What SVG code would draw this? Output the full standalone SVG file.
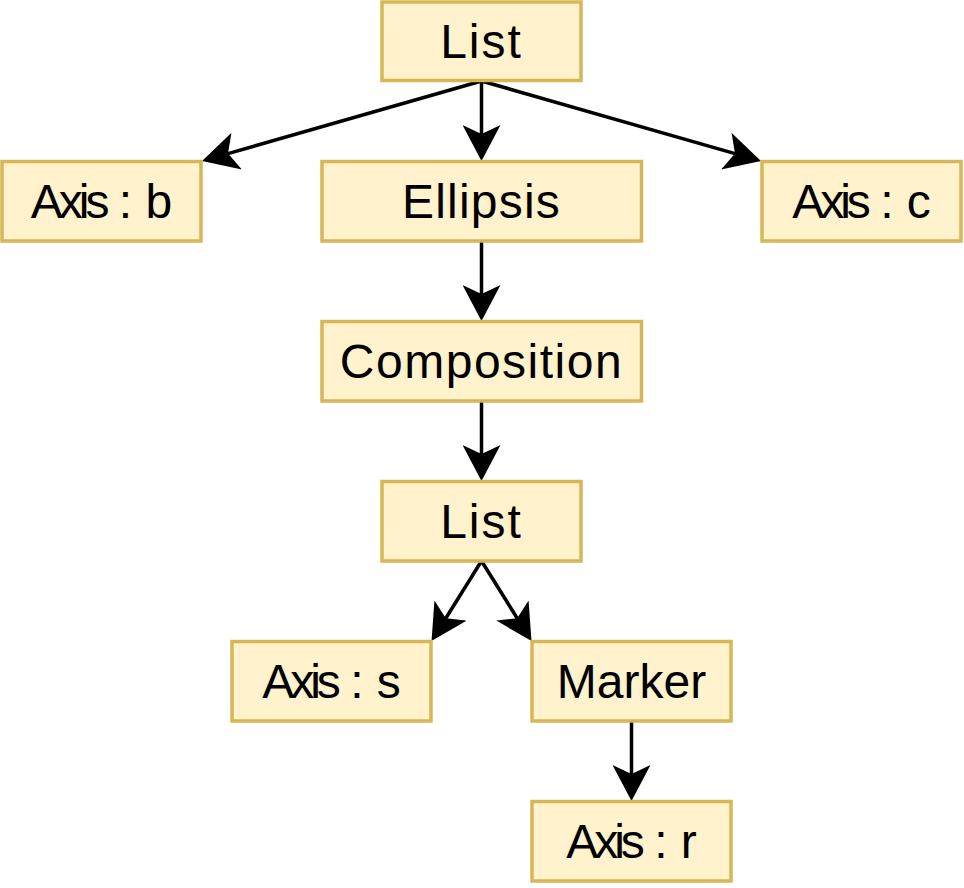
<svg xmlns="http://www.w3.org/2000/svg" width="964" height="888" viewBox="0 0 964 888">
<style>
.box{fill:#fff2cc;stroke:#d6b656;stroke-width:3.5}
.lbl{font-family:"Liberation Sans",Arial,sans-serif;font-size:48px;fill:#000;text-anchor:middle}
.ax{letter-spacing:-4px}
.edge{stroke:#000;stroke-width:3.5;fill:none;marker-end:url(#arr)}
</style>
<defs>
<marker id="arr" markerUnits="userSpaceOnUse" viewBox="0 0 36 38" refX="9" refY="19" markerWidth="36" markerHeight="38" orient="auto">
<path d="M0,0 L36,19 L0,38 L9,19 Z" fill="#000"/>
</marker>
</defs>
<rect width="964" height="888" fill="#fff"/>
<g id="edges">
<line class="edge" x1="481.5" y1="81" x2="228" y2="153.6"/>
<line class="edge" x1="481.5" y1="81" x2="735" y2="153.6"/>
<line class="edge" x1="481.5" y1="81" x2="481.5" y2="134"/>
<line class="edge" x1="481.5" y1="241" x2="481.5" y2="294"/>
<line class="edge" x1="481.5" y1="401" x2="481.5" y2="454"/>
<line class="edge" x1="481.5" y1="561" x2="445.8" y2="618.2"/>
<line class="edge" x1="481.5" y1="561" x2="517.2" y2="618.2"/>
<line class="edge" x1="631.5" y1="721" x2="631.5" y2="774"/>
</g>
<g id="list1"><rect class="box" x="382" y="2" width="199" height="78.5"/><text class="lbl" x="481.5" y="58" letter-spacing="2">List</text></g>
<g id="axis_b"><rect class="box" x="2" y="161.5" width="199" height="79.5"/><text class="lbl" x="101.5" y="218"><tspan class="ax">Axis</tspan> : b</text></g>
<g id="ellipsis"><rect class="box" x="322" y="161.5" width="319.5" height="79.5"/><text class="lbl" x="481.5" y="218" letter-spacing="1.2">Ellipsis</text></g>
<g id="axis_c"><rect class="box" x="762" y="161.5" width="199" height="79.5"/><text class="lbl" x="861.5" y="218"><tspan class="ax">Axis</tspan> : c</text></g>
<g id="composition"><rect class="box" x="322" y="321.5" width="319.5" height="79.5"/><text class="lbl" x="481.5" y="378" letter-spacing="1.5">Composition</text></g>
<g id="list2"><rect class="box" x="382" y="481.5" width="199" height="79.5"/><text class="lbl" x="481.5" y="538" letter-spacing="2">List</text></g>
<g id="axis_s"><rect class="box" x="232" y="641.5" width="199" height="79.5"/><text class="lbl" x="331.5" y="698"><tspan class="ax">Axis</tspan> : s</text></g>
<g id="marker"><rect class="box" x="532" y="641.5" width="199" height="79.5"/><text class="lbl" x="631.5" y="698">Marker</text></g>
<g id="axis_r"><rect class="box" x="532" y="801.5" width="199" height="79.5"/><text class="lbl" x="631.5" y="858"><tspan class="ax">Axis</tspan> : r</text></g>
</svg>
